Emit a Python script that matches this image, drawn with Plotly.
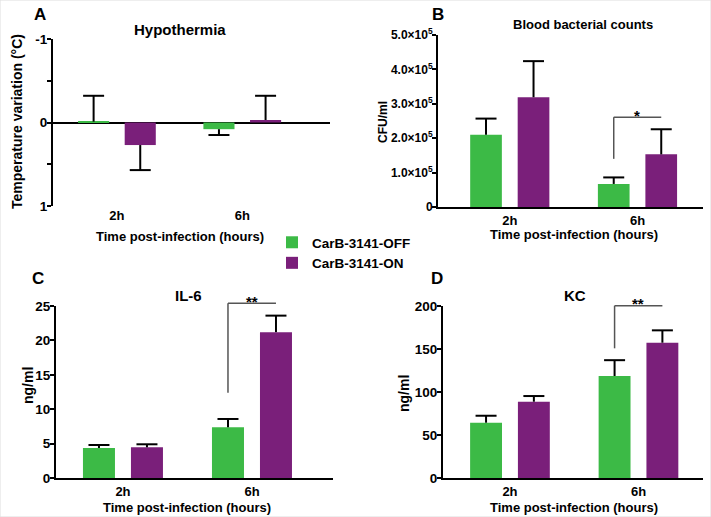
import plotly.graph_objects as go

W, H = 711, 517

categories = ["2h", "6h"]
series_names = ["CarB-3141-OFF", "CarB-3141-ON"]
colors = ["#3cba46", "#7a1f7a"]

# Panel A: Hypothermia (temperature variation, °C; axis reversed)
temp_mean = {"CarB-3141-OFF": [-0.01, 0.08], "CarB-3141-ON": [0.27, -0.03]}
temp_sem = {"CarB-3141-OFF": [0.31, 0.07], "CarB-3141-ON": [0.30, 0.29]}

# Panel B: Blood bacterial counts (CFU/ml)
cfu_mean = {"CarB-3141-OFF": [2.10e5, 0.67e5], "CarB-3141-ON": [3.19e5, 1.53e5]}
cfu_sem = {"CarB-3141-OFF": [0.47e5, 0.19e5], "CarB-3141-ON": [1.05e5, 0.73e5]}

# Panel C: IL-6 (ng/ml)
il6_mean = {"CarB-3141-OFF": [4.36, 7.37], "CarB-3141-ON": [4.46, 21.2]}
il6_sem = {"CarB-3141-OFF": [0.44, 1.21], "CarB-3141-ON": [0.44, 2.4]}

# Panel D: KC (ng/ml)
kc_mean = {"CarB-3141-OFF": [64.3, 118.6], "CarB-3141-ON": [88.7, 157.3]}
kc_sem = {"CarB-3141-OFF": [8.1, 18.4], "CarB-3141-ON": [6.6, 14.4]}

cfu_ticks = [0, 1e5, 2e5, 3e5, 4e5, 5e5]
cfu_ticktext = ["0", "1.0\u00d710<sup>5</sup>", "2.0\u00d710<sup>5</sup>", "3.0\u00d710<sup>5</sup>",
                "4.0\u00d710<sup>5</sup>", "5.0\u00d710<sup>5</sup>"]

FONT = "Liberation Sans, Arial, sans-serif"
GAP = 0.256
GROUPGAP = 0.333


def px_x(p):
    return p / W


def px_y(p):
    return 1 - p / H


fig = go.Figure()

panels = [
    ("x", "y", temp_mean, temp_sem, True),
    ("x2", "y2", cfu_mean, cfu_sem, False),
    ("x3", "y3", il6_mean, il6_sem, False),
    ("x4", "y4", kc_mean, kc_sem, False),
]

for xa, ya, means, sems, first in panels:
    for name, col in zip(series_names, colors):
        m = means[name]
        s = sems[name]
        plus = [e if v >= 0 else 0 for v, e in zip(m, s)]
        minus = [e if v < 0 else 0 for v, e in zip(m, s)]
        ends = [v + e if v >= 0 else v - e for v, e in zip(m, s)]
        fig.add_trace(go.Bar(
            x=categories, y=m, name=name, marker=dict(color=col, line=dict(width=0)),
            xaxis=xa, yaxis=ya, offsetgroup=name, legendgroup=name, showlegend=first,
            error_y=dict(type="data", symmetric=False, array=plus, arrayminus=minus,
                         color="black", thickness=2, width=0),
        ))
        # caps at the far end of each error bar
        fig.add_trace(go.Scatter(
            x=categories, y=ends, mode="markers", xaxis=xa, yaxis=ya,
            offsetgroup=name, legendgroup=name, showlegend=False, hoverinfo="skip",
            marker=dict(symbol="line-ew", size=15, color="black",
                        line=dict(color="black", width=2)),
            cliponaxis=False,
        ))

axis_common = dict(showgrid=False, linecolor="black", linewidth=2, automargin=False,
                   tickfont=dict(size=13, color="black"), type="category", ticks="")
yaxis_common = dict(showgrid=False, showline=True, linecolor="black", linewidth=2,
                    ticks="outside", ticklen=4, tickwidth=2, tickcolor="black", automargin=False,
                    tickfont=dict(size=13.5, color="black"), zeroline=False,
                    ticklabelstandoff=-3)

fig.update_layout(
    width=W, height=H, margin=dict(l=0, r=0, t=0, b=0),
    paper_bgcolor="white", plot_bgcolor="white",
    font=dict(family=FONT, color="black", weight="bold"),
    barmode="group", bargap=GAP, bargroupgap=GROUPGAP,
    scattermode="group", scattergap=GAP,
    xaxis=dict(axis_common, domain=[px_x(53), px_x(330)], anchor="y", range=[-0.51, 1.70],
               showline=False),
    yaxis=dict(yaxis_common, domain=[px_y(206), px_y(39)], anchor="x", range=[1, -1],
               tickvals=[-1, -0.5, 0, 0.5, 1], ticktext=["-1", "", "0", "", "1"],
               zeroline=True, zerolinecolor="black", zerolinewidth=2),
    xaxis2=dict(axis_common, domain=[px_x(438), px_x(703)], anchor="y2", range=[-0.562, 1.513],
                showline=True),
    yaxis2=dict(yaxis_common, domain=[px_y(207), px_y(35)], anchor="x2", range=[0, 5e5],
                tickvals=cfu_ticks, ticktext=cfu_ticktext, tickfont=dict(size=12)),
    xaxis3=dict(axis_common, domain=[px_x(56), px_x(333)], anchor="y3", range=[-0.519, 1.628],
                showline=True),
    yaxis3=dict(yaxis_common, domain=[px_y(478), px_y(306)], anchor="x3", range=[0, 25],
                tickvals=[0, 5, 10, 15, 20, 25]),
    xaxis4=dict(axis_common, domain=[px_x(443), px_x(703)], anchor="y4", range=[-0.521, 1.502],
                showline=True),
    yaxis4=dict(yaxis_common, domain=[px_y(478), px_y(306)], anchor="x4", range=[0, 200],
                tickvals=[0, 50, 100, 150, 200]),
    legend=dict(x=px_x(272), y=px_y(227), xanchor="left", yanchor="top",
                font=dict(size=13.5, color="black"), bgcolor="rgba(0,0,0,0)",
                tracegroupgap=0, itemsizing="constant"),
)

# Panel letters, titles and axis titles
labels = [
    ("A", 40, 15, 17, 0), ("B", 438, 15, 17, 0), ("C", 38, 278, 17, 0), ("D", 437, 278, 17, 0),
    ("Hypothermia", 180, 30, 15, 0), ("Blood bacterial counts", 583, 25, 13, 0),
    ("IL-6", 188, 295, 15, 0), ("KC", 575, 295, 15, 0),
    ("Time post-infection (hours)", 180, 236, 13, 0),
    ("Time post-infection (hours)", 574, 234, 13, 0),
    ("Time post-infection (hours)", 187, 507, 13, 0),
    ("Time post-infection (hours)", 574, 507, 13, 0),
    ("Temperature variation (\u00b0C)", 17, 122, 14, -90),
    ("CFU/ml", 383, 122, 12, -90),
    ("ng/ml", 28, 386, 14, -90),
    ("ng/ml", 404, 394, 14, -90),
]
for txt, xp, yp, sz, ang in labels:
    fig.add_annotation(text=txt, x=px_x(xp), y=px_y(yp), xref="paper", yref="paper",
                       showarrow=False, font=dict(size=sz, color="black"), textangle=ang,
                       xanchor="center", yanchor="middle")

# Significance brackets (data x, domain-fraction y so they are not clipped)
OFF = (1 - GAP) / 4
brackets = [
    ("x2", 5e5, 2.61e5, 1.40e5, 2.67e5, "*"),
    ("x3", 25, 25.4, 12.4, 25.7, "**"),
    ("x4", 200, 200.3, 150.8, 203.0, "**"),
]
for xa, rmax, ytop, yleg, ystar, star in brackets:
    yd = xa.replace("x", "y") + " domain"
    x0, x1 = 1 - OFF, 1 + OFF
    fig.add_shape(type="line", xref=xa, yref=yd, x0=x0, x1=x1, y0=ytop / rmax, y1=ytop / rmax,
                  line=dict(color="#555555", width=1.5))
    fig.add_shape(type="line", xref=xa, yref=yd, x0=x0, x1=x0, y0=yleg / rmax, y1=ytop / rmax,
                  line=dict(color="#555555", width=1.5))
    fig.add_annotation(text=star, xref=xa, yref=yd, x=1, y=ystar / rmax, showarrow=False,
                       font=dict(size=15, color="black"), yanchor="middle")

# light border
fig.add_shape(type="rect", xref="paper", yref="paper", x0=0, x1=1, y0=0, y1=1,
              line=dict(color="#dddddd", width=1))

fig.write_html("out.html", config={"displayModeBar": False},
               post_script="document.body.style.margin='0';")
